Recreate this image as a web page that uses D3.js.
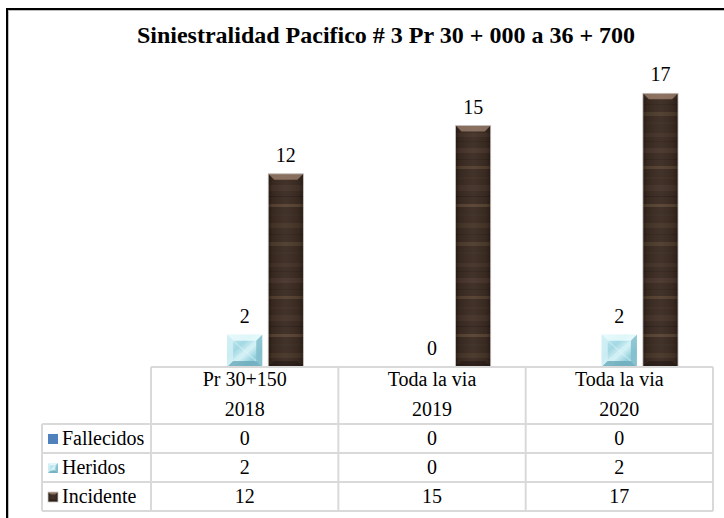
<!DOCTYPE html>
<html>
<head>
<meta charset="utf-8">
<script src="https://cdn.jsdelivr.net/npm/d3@7"></script>
<style>
  html, body { margin: 0; padding: 0; background: #fff; }
  svg { display: block; }
</style>
</head>
<body>
<svg id="chart" width="724" height="518"></svg>
<script>
// Data
const categories = ["Pr 30+150|2018", "Toda la via|2019", "Toda la via|2020"];
const seriesNames = ["Fallecidos", "Heridos", "Incidente"];
const fallecidos = [0, 0, 0];
const heridos = [2, 0, 2];
const incidente = [12, 15, 17];
const seriesValues = [fallecidos, heridos, incidente];
const yMax = 20;

const SERIF = "Liberation Serif, Tinos, Times New Roman, Times, serif";
const svg = d3.select("#chart");
const W = 724, H = 518;

function txt(g, x, yy, s, size, anchor) {
  return g.append("text").attr("x", x).attr("y", yy)
    .attr("text-anchor", anchor || "middle")
    .style("font-family", SERIF).style("font-size", size + "px").attr("fill", "#000").text(s);
}

// Frame (left and top edges visible)
svg.append("line").attr("x1", 8).attr("y1", 10).attr("x2", 8).attr("y2", H).attr("stroke", "#bdbdbd").attr("stroke-width", 2);
svg.append("line").attr("x1", 8).attr("y1", 10).attr("x2", W).attr("y2", 10).attr("stroke", "#bdbdbd").attr("stroke-width", 2);
svg.append("line").attr("x1", 7).attr("y1", 9).attr("x2", 7).attr("y2", H).attr("stroke", "#000").attr("stroke-width", 2);
svg.append("line").attr("x1", 6).attr("y1", 9).attr("x2", W).attr("y2", 9).attr("stroke", "#000").attr("stroke-width", 2);

// Title
txt(svg, 386, 43, "Siniestralidad Pacifico # 3 Pr 30 + 000 a 36 + 700", 24).style("font-weight", "bold");

// Scales
const tableLeft = 42, plotLeft = 151, plotRight = 713;
const baseY = 367, topY = 45;
const x0 = d3.scaleBand().domain(categories).range([plotLeft, plotRight]).padding(0);
const x1 = d3.scaleBand().domain(seriesNames).range([0, x0.bandwidth()]).paddingInner(0.146).paddingOuter(0.85);
const y = d3.scaleLinear().domain([0, yMax]).range([baseY, topY]);

// Textures
const defs = svg.append("defs");
const soften = defs.append("filter").attr("id", "soften");
soften.append("feGaussianBlur").attr("stdDeviation", "0 0.7");
const wood = defs.append("pattern").attr("id", "wood").attr("patternUnits", "userSpaceOnUse")
  .attr("width", 40).attr("height", 130);
wood.append("rect").attr("width", 40).attr("height", 130).attr("fill", "#3a2a21");
const grainG = wood.append("g").attr("filter", "url(#soften)");
const grain = [[3,4,"#46342a"],[11,1,"#2c211a"],[18,5,"#4c392c"],[29,1,"#30241d"],[36,3,"#5c4634"],
               [47,2,"#3f2e24"],[55,6,"#47352a"],[66,1,"#2b2019"],[74,3,"#634b37"],[84,2,"#3c2c22"],
               [93,5,"#4a372a"],[104,1,"#2f231c"],[112,4,"#56412f"],[122,2,"#3d2d23"]];
grain.forEach(g => grainG.append("rect").attr("x", -2).attr("y", g[0]).attr("width", 44).attr("height", g[1]).attr("fill", g[2]).attr("opacity", 0.7));
const woodShade = defs.append("linearGradient").attr("id", "woodShade").attr("x1", 0).attr("x2", 1).attr("y1", 0).attr("y2", 0);
[[0,"#000",0.35],[0.12,"#000",0.06],[0.5,"#fff",0.04],[0.88,"#000",0.06],[1,"#000",0.35]].forEach(s =>
  woodShade.append("stop").attr("offset", s[0]).attr("stop-color", s[1]).attr("stop-opacity", s[2]));

const ice = defs.append("linearGradient").attr("id", "ice").attr("x1", 0).attr("y1", 0).attr("x2", 1).attr("y2", 1);
[[0,"#c9eef4"],[0.35,"#a3d8e3"],[0.55,"#d5f2f7"],[0.75,"#93cfdc"],[1,"#b5e2ec"]].forEach(s =>
  ice.append("stop").attr("offset", s[0]).attr("stop-color", s[1]));

function drawBevelBar(g, x, yTop, w, h, kind) {
  if (h <= 0) return;
  const b = Math.min(6, h / 3, w / 4);
  if (kind === "Incidente") {
    g.append("rect").attr("x", x).attr("y", yTop).attr("width", w).attr("height", h).attr("fill", "url(#wood)");
    g.append("rect").attr("x", x).attr("y", yTop).attr("width", w).attr("height", h).attr("fill", "url(#woodShade)");
    g.append("polygon").attr("points", [[x, yTop], [x + w, yTop], [x + w - b, yTop + b], [x + b, yTop + b]].join(" "))
      .attr("fill", "#a88a76").attr("opacity", 0.7);
    g.append("polygon").attr("points", [[x, yTop + h], [x + w, yTop + h], [x + w - b, yTop + h - b], [x + b, yTop + h - b]].join(" "))
      .attr("fill", "#1d140f").attr("opacity", 0.5);
    g.append("rect").attr("x", x).attr("y", yTop).attr("width", w).attr("height", h)
      .attr("fill", "none").attr("stroke", "#cfcac6").attr("stroke-width", 0.8);
  } else {
    g.append("rect").attr("x", x).attr("y", yTop).attr("width", w).attr("height", h).attr("fill", "url(#ice)");
    g.append("polygon").attr("points", [[x, yTop], [x + w, yTop], [x + w - b, yTop + b], [x + b, yTop + b]].join(" "))
      .attr("fill", "#eafbfd").attr("opacity", 0.85);
    g.append("polygon").attr("points", [[x, yTop], [x + b, yTop + b], [x + b, yTop + h - b], [x, yTop + h]].join(" "))
      .attr("fill", "#d4f1f6").attr("opacity", 0.8);
    g.append("polygon").attr("points", [[x + w, yTop], [x + w - b, yTop + b], [x + w - b, yTop + h - b], [x + w, yTop + h]].join(" "))
      .attr("fill", "#7fbccb").attr("opacity", 0.8);
    g.append("polygon").attr("points", [[x, yTop + h], [x + w, yTop + h], [x + w - b, yTop + h - b], [x + b, yTop + h - b]].join(" "))
      .attr("fill", "#6aa9b9").attr("opacity", 0.8);
    g.append("line").attr("x1", x + b).attr("y1", yTop + b).attr("x2", x + w - b).attr("y2", yTop + h - b)
      .attr("stroke", "#e8fafc").attr("stroke-width", 1.2).attr("opacity", 0.4);
    g.append("line").attr("x1", x + w - b).attr("y1", yTop + b).attr("x2", x + b).attr("y2", yTop + h - b)
      .attr("stroke", "#e8fafc").attr("stroke-width", 1.2).attr("opacity", 0.4);
  }
}

// Bars and value labels
const barLayer = svg.append("g");
const labelLayer = svg.append("g");
categories.forEach((cat, ci) => {
  seriesNames.forEach((name, si) => {
    const v = seriesValues[si][ci];
    const bx = x0(cat) + x1(name);
    const bw = x1.bandwidth();
    if (name !== "Fallecidos") {
      drawBevelBar(barLayer, bx, y(v), bw, baseY - y(v), name);
      txt(labelLayer, bx + bw / 2, y(v) - 12, v, 20);
    }
  });
});

// Data table
const rowH = [57, 29, 29, 29];
const rowY = [baseY];
rowH.forEach((h, i) => rowY.push(rowY[i] + h));
const grid = svg.append("g").attr("stroke", "#d9d9d9").attr("stroke-width", 2).attr("fill", "none");
grid.append("line").attr("x1", plotLeft).attr("x2", plotRight).attr("y1", rowY[0]).attr("y2", rowY[0]);
for (let i = 1; i < rowY.length; i++) {
  grid.append("line").attr("x1", tableLeft).attr("x2", plotRight).attr("y1", rowY[i]).attr("y2", rowY[i]);
}
grid.append("line").attr("x1", tableLeft).attr("x2", tableLeft).attr("y1", rowY[1]).attr("y2", rowY[4]);
const colEdges = categories.map(c => x0(c)).concat([plotRight]);
colEdges.forEach(xe => grid.append("line").attr("x1", xe).attr("x2", xe).attr("y1", rowY[0]).attr("y2", rowY[4]));

// Header cells
categories.forEach(cat => {
  const [l1, l2] = cat.split("|");
  const cx = x0(cat) + x0.bandwidth() / 2;
  txt(svg, cx, rowY[0] + 19, l1, 20);
  txt(svg, cx, rowY[0] + 49, l2, 20);
});

// Series rows with legend keys
seriesNames.forEach((name, si) => {
  const ry = rowY[si + 1];
  const key = svg.append("g");
  const kx = 48, ky = ry + 10, ks = 10;
  if (name === "Fallecidos") {
    key.append("rect").attr("x", kx).attr("y", ky).attr("width", ks).attr("height", ks).attr("fill", "#4f81bd");
  } else {
    drawBevelBar(key, kx, ky, ks, ks, name);
  }
  txt(svg, 62, ry + 21, name, 20, "start");
  categories.forEach((cat, ci) => {
    txt(svg, x0(cat) + x0.bandwidth() / 2, ry + 21, seriesValues[si][ci], 20);
  });
});
</script>
</body>
</html>
